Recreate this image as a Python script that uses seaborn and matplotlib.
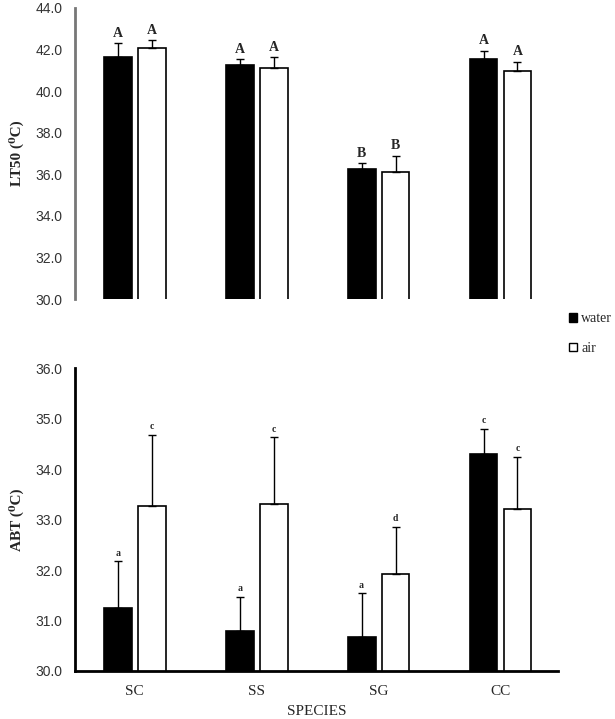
import numpy as np
import pandas as pd
import matplotlib.pyplot as plt
import seaborn as sns
from matplotlib.patches import Patch

species = ["SC", "SS", "SG", "CC"]
media = ["water", "air"]

# LT50 means and SE (upper error only)
lt50_water = [41.66, 41.24, 36.24, 41.53]
lt50_air = [42.06, 41.12, 36.10, 40.99]
lt50_water_err = [0.64, 0.29, 0.29, 0.40]
lt50_air_err = [0.39, 0.51, 0.80, 0.43]
lt50_letters_water = ["A", "A", "B", "A"]
lt50_letters_air = ["A", "A", "B", "A"]

# ABT means and SE
abt_water = [31.25, 30.79, 30.67, 34.30]
abt_air = [33.26, 33.30, 31.93, 33.20]
abt_water_err = [0.92, 0.68, 0.87, 0.50]
abt_air_err = [1.42, 1.33, 0.93, 1.04]
abt_letters_water = ["a", "a", "a", "c"]
abt_letters_air = ["c", "c", "d", "c"]

sns.set_style("white")
plt.rcParams["font.family"] = ["Liberation Serif", "DejaVu Serif"]

fig = plt.figure(figsize=(6.15, 7.19), dpi=100)
ax1 = fig.add_axes([0.122, 0.584, 0.785, 0.405])
ax2 = fig.add_axes([0.122, 0.0668, 0.785, 0.4212])


def draw(ax, water, air, werr, aerr, wlet, alet, ylim, step, ylabel, letsize):
    df = pd.DataFrame({
        "species": species * 2,
        "medium": ["water"] * 4 + ["air"] * 4,
        "value": water + air,
    })
    sns.barplot(data=df, x="species", y="value", hue="medium", order=species,
                hue_order=media, palette={"water": "black", "air": "white"},
                errorbar=None, width=0.557, gap=0.18, edgecolor="black",
                linewidth=1.2, legend=False, ax=ax)
    vals = water + air
    errs = werr + aerr
    lets = wlet + alet
    bars = [p for p in ax.patches if p.get_height() > 0][:8]
    for p, v, e, l in zip(bars, vals, errs, lets):
        x = p.get_x() + p.get_width() / 2
        ax.errorbar(x, v, yerr=[[0], [e]], fmt="none", ecolor="black",
                    elinewidth=1, capsize=3, capthick=1)
        ax.text(x, v + e + (ylim[1] - ylim[0]) * 0.012, l, ha="center", va="bottom",
                fontsize=letsize, fontweight="bold")
    ax.set_ylim(*ylim)
    ax.set_xlim(-0.49, 3.47)
    ticks = np.arange(ylim[0], ylim[1] + 0.01, step)
    ax.set_yticks(ticks)
    ax.set_yticklabels([f"{t:.1f}" for t in ticks],
                       family="Liberation Sans", fontsize=10, color="#333333")
    ax.set_ylabel(ylabel, fontsize=11, fontweight="bold", labelpad=8)
    ax.tick_params(axis="y", length=0, pad=9)
    sns.despine(ax=ax, top=True, right=True)


draw(ax1, lt50_water, lt50_air, lt50_water_err, lt50_air_err,
     lt50_letters_water, lt50_letters_air, (30, 44), 2.0, "LT50 (\u2070C)", 10)
ax1.spines["bottom"].set_visible(False)
ax1.spines["left"].set_color("#777777")
ax1.spines["left"].set_linewidth(2)
ax1.set_xticks([])
ax1.set_xlabel("")

draw(ax2, abt_water, abt_air, abt_water_err, abt_air_err,
     abt_letters_water, abt_letters_air, (30, 36), 1.0, "ABT (\u2070C)", 7)
for s in ["left", "bottom"]:
    ax2.spines[s].set_color("black")
    ax2.spines[s].set_linewidth(2)
ax2.tick_params(axis="x", length=0, pad=10, labelsize=11)
ax2.set_xlabel("SPECIES", fontsize=11, labelpad=5)

handles = [Patch(facecolor="black", edgecolor="black", label="water"),
           Patch(facecolor="white", edgecolor="black", label="air")]
fig.legend(handles=handles, loc="center left", bbox_to_anchor=(0.925, 0.536),
           frameon=False, borderpad=0, borderaxespad=0, handlelength=0.6,
           handleheight=0.6, handletextpad=0.3, labelspacing=1.2, fontsize=10)

fig.savefig("out.png", dpi=100)
